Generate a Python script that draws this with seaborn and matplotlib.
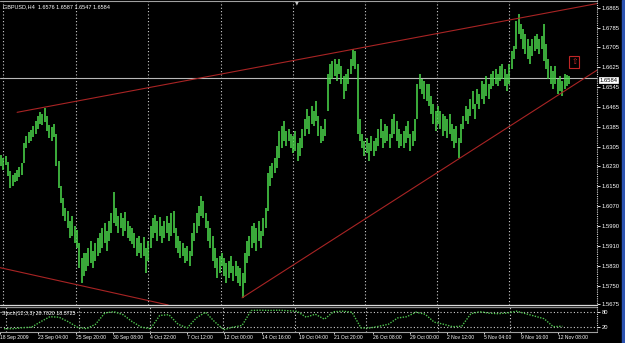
import numpy as np
import matplotlib
matplotlib.use("Agg")
import matplotlib.pyplot as plt
import seaborn as sns
from matplotlib import font_manager
from matplotlib.lines import Line2D
from matplotlib.patches import Rectangle

# ---------------- data (GBPUSD H4) ----------------
# bar lows / highs, in pips above 1.5000
bar_low = [1230, 1215, 1235, 1190, 1140, 1150, 1165, 1170, 1185, 1195,
           1240, 1300, 1320, 1330, 1345, 1360, 1380, 1400, 1395, 1405,
           1370, 1340, 1330, 1345, 1230, 1140, 1080, 1030, 1010, 980,
           940, 950, 920, 900, 820, 760, 790, 810, 830, 840,
           820, 850, 870, 880, 900, 920, 890, 930, 960, 1000,
           990, 960, 980, 950, 970, 940, 930, 915, 900, 870,
           880, 860, 870, 800, 850, 900, 940, 960, 930, 950,
           920, 940, 960, 930, 950, 960, 900, 880, 860, 870,
           840, 850, 830, 870, 930, 960, 990, 1030, 1020, 980,
           930, 900, 850, 820, 780, 800, 830, 790, 760, 780,
           800, 770, 790, 760, 750, 700, 760, 840, 870, 900,
           920, 890, 930, 900, 950, 980, 1050, 1150, 1180, 1200,
           1220, 1260, 1300, 1330, 1310, 1330, 1300, 1280, 1290, 1250,
           1270, 1300, 1350, 1380, 1360, 1400, 1390, 1410, 1350, 1320,
           1330, 1350, 1450, 1560, 1580, 1590, 1570, 1600, 1560, 1500,
           1530, 1560, 1600, 1630, 1620, 1360, 1330, 1300, 1270, 1280,
           1250, 1290, 1270, 1290, 1310, 1340, 1300, 1320, 1330, 1300,
           1340, 1360, 1330, 1300, 1310, 1300, 1320, 1340, 1290, 1310,
           1330, 1420, 1540, 1520, 1500, 1490, 1470, 1440, 1400, 1370,
           1400, 1380, 1350, 1370, 1340, 1360, 1330, 1300, 1320, 1260,
           1320, 1380, 1410, 1400, 1430, 1460, 1420, 1480, 1460, 1500,
           1480, 1510, 1500, 1540, 1550, 1560, 1550, 1570, 1580, 1550,
           1530, 1560, 1620, 1660, 1700, 1760, 1740, 1700, 1680, 1660,
           1640, 1670, 1690, 1700, 1680, 1700, 1650, 1620, 1580, 1560,
           1540, 1560, 1520, 1530, 1510, 1540, 1550, 1560]
bar_high = [1275, 1262, 1270, 1245, 1210, 1195, 1200, 1215, 1225, 1240,
            1320, 1350, 1365, 1375, 1390, 1410, 1430, 1445, 1440, 1462,
            1430, 1395, 1385, 1400, 1360, 1250, 1150, 1100, 1060, 1050,
            1010, 1030, 990, 975, 920, 860, 880, 880, 900, 930,
            890, 920, 940, 960, 980, 1000, 970, 1010, 1040, 1125,
            1060, 1030, 1040, 1020, 1045, 1010, 990, 980, 960, 940,
            950, 920, 945, 900, 930, 990, 1020, 1035, 1010, 1025,
            990, 1010, 1030, 1000, 1040, 1050, 980, 950, 930, 920,
            900, 910, 890, 960, 1000, 1040, 1070, 1110, 1090, 1040,
            1010, 980, 950, 900, 860, 870, 880, 860, 840, 850,
            870, 830, 850, 830, 820, 800, 880, 930, 950, 990,
            1000, 980, 1010, 970, 1020, 1060, 1200, 1230, 1240, 1260,
            1310, 1370, 1390, 1410, 1370, 1380, 1360, 1350, 1370, 1320,
            1340, 1380, 1420, 1460, 1430, 1470, 1450, 1490, 1430, 1390,
            1380, 1420, 1600, 1640, 1650, 1660, 1640, 1660, 1630, 1590,
            1600, 1620, 1660, 1700, 1690, 1640, 1420, 1360, 1330, 1340,
            1320, 1350, 1330, 1340, 1380, 1420, 1370, 1400, 1390, 1360,
            1420, 1440, 1410, 1380, 1360, 1370, 1390, 1410, 1360, 1370,
            1420, 1560, 1600, 1580, 1570, 1560, 1560, 1510, 1480, 1450,
            1470, 1450, 1440, 1430, 1420, 1440, 1400, 1380, 1390, 1340,
            1400, 1430, 1470, 1460, 1500, 1530, 1480, 1540, 1520, 1570,
            1560, 1590, 1560, 1600, 1610, 1620, 1600, 1630, 1640, 1620,
            1600, 1640, 1690, 1710, 1810, 1840, 1800, 1780, 1760, 1740,
            1710, 1740, 1750, 1760, 1740, 1750, 1800, 1720, 1660, 1630,
            1610, 1630, 1580, 1590, 1570, 1600, 1595, 1590]

# Stochastic(12,3,3) main line, one reading every 4 bars
stoch_k = [12, 12, 16, 18, 40, 60, 58, 40, 18, 12,
           30, 75, 80, 68, 40, 18, 12, 65, 68, 30,
           15, 55, 78, 40, 8, 18, 25, 85, 86, 85,
           86, 84, 82, 58, 70, 50, 80, 82, 78, 15,
           15, 22, 30, 55, 60, 78, 70, 38, 30, 20,
           22, 72, 80, 74, 72, 75, 82, 72, 62, 52,
           20, 22]

price_ticks = [1.6865, 1.6785, 1.6705, 1.6625, 1.6545, 1.6465, 1.6385, 1.6305,
               1.6230, 1.6150, 1.6070, 1.5990, 1.5910, 1.5830, 1.5750, 1.5675]
date_labels = ["18 Sep 2009", "23 Sep 04:00", "25 Sep 20:00", "30 Sep 08:00",
               "4 Oct 22:00", "7 Oct 12:00", "12 Oct 00:00", "14 Oct 16:00",
               "19 Oct 04:00", "21 Oct 20:00", "26 Oct 08:00", "29 Oct 00:00",
               "2 Nov 12:00", "5 Nov 04:00", "9 Nov 16:00", "12 Nov 08:00"]
date_label_bars = [-1.8, 14.8, 31.3, 47.4, 63.9, 80.0, 96.1, 112.6,
                   128.7, 144.3, 161.3, 177.4, 193.5, 209.6, 225.7, 242.2]
grid_bars = [0.9, 32.6, 63.9, 95.7, 127.0, 158.3, 189.6, 220.9]

bid_price = 1.6584
title_text = "GBPUSD,H4  1.6576 1.6587 1.6547 1.6584"
stoch_text = "Stoch(12,3,3) 28.7020 18.3725"
stoch_levels = [20, 80]

# trend line anchors (bar, price)
upper_line = [(7.0, 1.6445), (173.5, 1.6733)]
lower_right_line = [(104.8, 1.5701), (251.7, 1.6570)]
lower_left_line = [(-0.4, 1.5822), (74.8, 1.5668)]
arrow_anchor = (249.3, 1.6647)

# ---------------- style ----------------
sns.set_style("dark", {"axes.facecolor": "black", "figure.facecolor": "black",
                       "axes.edgecolor": "black", "text.color": "white",
                       "xtick.color": "white", "ytick.color": "white"})

_names = {f.name for f in font_manager.fontManager.ttflist}
if "Liberation Sans Narrow" in _names:
    base_font = "Liberation Sans Narrow"
    fs_date, fs_price, fs_title, fs_stoch = 4.6, 4.6, 4.8, 4.6
else:
    base_font = "Liberation Sans"
    fs_date, fs_price, fs_title, fs_stoch = 3.6, 4.2, 4.0, 3.8
plt.rcParams["font.family"] = [base_font, "DejaVu Sans"]

W, H = 625, 343
fig = plt.figure(figsize=(W / 100, H / 100), dpi=100, facecolor="black")


def fx(px):
    return px / W


def fy(py):
    return 1 - py / H


PXB = 2.3  # pixels per bar
x_left = -1 / PXB
x_right = (597 - 1) / PXB

ax = fig.add_axes([0, fy(305), fx(597), (305 - 1) / H])
sub = fig.add_axes([0, fy(331.7), fx(597), (331.7 - 306.7) / H])
for a in (ax, sub):
    a.set_facecolor("black")
    a.grid(False)
    for s in a.spines.values():
        s.set_visible(False)
    a.set_xlim(x_left, x_right)
    for g in grid_bars:
        a.axvline(g, color="#d0d0d0", lw=0.8, ls=(0, (1, 2)), zorder=1)

ax.set_ylim(1.56723, 1.68914)

# bars
lows = 1.5 + np.array(bar_low) / 10000
highs = 1.5 + np.array(bar_high) / 10000
idx = np.arange(len(lows))
ax.vlines(idx, lows, highs, colors="#4cdc4c", lw=1.1, zorder=3)

# bid line
ax.axhline(bid_price, color="#b8b8b8", lw=0.8, zorder=2)


def ray(a, p, q, color):
    (x1, y1), (x2, y2) = p, q
    k = (y2 - y1) / (x2 - x1)
    xe = x_right + 5
    a.plot([x1, xe], [y1, y1 + k * (xe - x1)], color=color, lw=0.8, zorder=4)


tl_color = "#a82424"
ray(ax, upper_line[0], upper_line[1], tl_color)
ray(ax, lower_right_line[0], lower_right_line[1], tl_color)
ax.axline(lower_left_line[0], lower_left_line[1], color=tl_color, lw=0.8, zorder=4)

# arrow object
ax.text(arrow_anchor[0], arrow_anchor[1], "\u21e7", color="#d02828", fontsize=5.5,
        family=["DejaVu Sans"], ha="center", va="center", zorder=5,
        bbox=dict(boxstyle="square,pad=0.25", fc="none", ec="#c02626", lw=0.8))

# price axis
ax.yaxis.tick_right()
ax.set_yticks(price_ticks)
ax.set_yticklabels([f"{p:.4f}" for p in price_ticks])
ax.tick_params(axis="y", right=True, left=False, labelright=True, labelleft=False,
               colors="white", labelsize=fs_price, length=2, width=0.6, pad=1.5)
ax.set_xticks([])

# stochastic
stoch_x = np.arange(len(stoch_k)) * 4
sns.lineplot(x=stoch_x, y=stoch_k, ax=sub, color="#4cc04c", lw=1.0,
             linestyle=(0, (1, 1)), zorder=3)
sub.set_ylim(0, 100)
for lv in stoch_levels:
    sub.axhline(lv, color="#d0d0d0", lw=0.8, ls=(0, (1, 2)), zorder=1)
sub.yaxis.tick_right()
sub.set_yticks(stoch_levels)
sub.set_yticklabels([str(v) for v in stoch_levels])
sub.tick_params(axis="y", right=True, left=False, labelright=True, labelleft=False,
                colors="white", labelsize=fs_price, length=2, width=0.6, pad=1.5)
sub.set_xticks(date_label_bars)
sub.set_xticklabels(date_labels, ha="left")
sub.tick_params(axis="x", bottom=True, colors="white", labelsize=fs_date,
                length=1.5, width=0.6, pad=1.0)
sub.set_xlabel("")
sub.set_ylabel("")


# window decorations
def hline(py, x0, x1, color, lw=0.8, ls="-"):
    fig.add_artist(Line2D([fx(x0), fx(x1)], [fy(py), fy(py)], color=color, lw=lw,
                          ls=ls, transform=fig.transFigure))


def vline(px, y0, y1, color, lw=0.8, ls="-"):
    fig.add_artist(Line2D([fx(px), fx(px)], [fy(y0), fy(y1)], color=color, lw=lw,
                          ls=ls, transform=fig.transFigure))


hline(0.6, 0, 597, "#a0a0a0")
hline(305.2, 0, 597, "#d8d8d8", lw=0.9)
hline(307.4, 0, 597, "#8c8c8c", lw=0.9)
hline(331.8, 0, 597, "#a0a0a0")
vline(597.3, 0, 332, "#d8d8d8", lw=0.8, ls=(0, (1, 1)))
fig.add_artist(Rectangle((fx(621.5), 0), fx(3.5), 1, transform=fig.transFigure,
                         color="#2b52b0", zorder=10))

fig.text(fx(3), fy(6.5), title_text, color="white", fontsize=fs_title, va="center", ha="left")
fig.text(fx(2), fy(313.5), stoch_text, color="white", fontsize=fs_stoch, va="center", ha="left")
fig.text(fx(297), fy(2.5), "\u25bc", color="#c8c8c8", fontsize=3.5, va="center",
         ha="center", family=["DejaVu Sans"])
fig.text(fx(599.5), fy(80), f"{bid_price:.4f}", color="black", fontsize=fs_price,
         va="center", ha="left",
         bbox=dict(boxstyle="square,pad=0.15", fc="white", ec="white", lw=0.5))

fig.savefig("out.png", dpi=100, facecolor="black")
